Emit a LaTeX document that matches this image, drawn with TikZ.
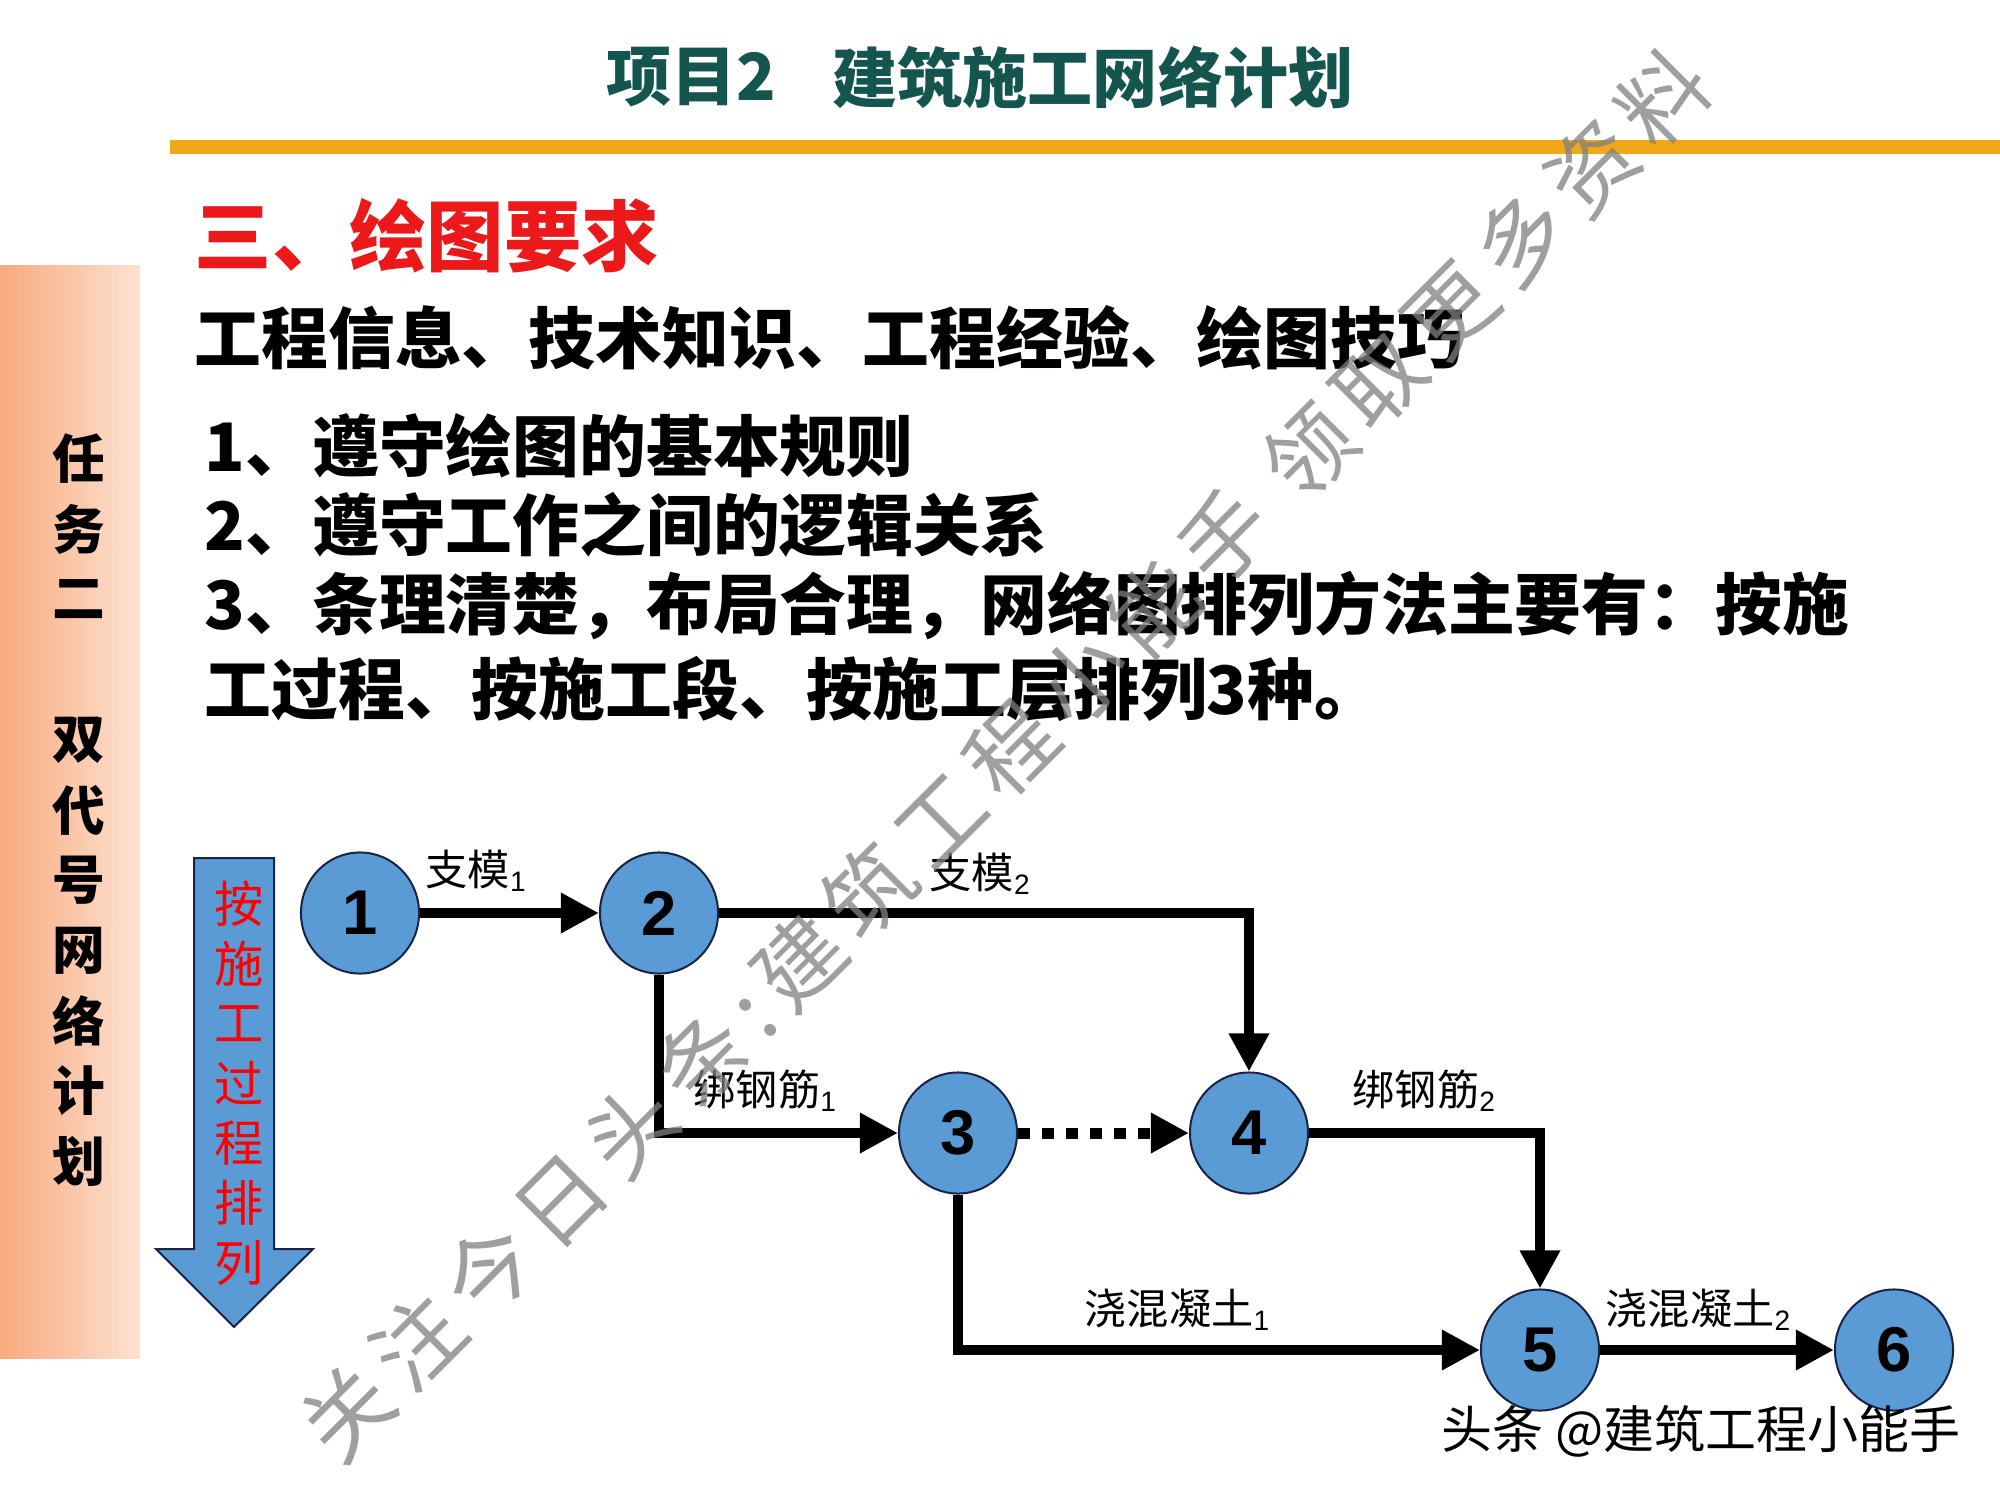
\documentclass[tikz,border=0pt]{standalone}
\usepackage{fontspec}
\setmainfont{Liberation Sans}
\newfontfamily\cjk{Noto Sans CJK SC}
\newfontfamily\cjkwm[LetterSpace=14]{Noto Sans CJK SC}
\usetikzlibrary{arrows.meta,shapes.geometric}
\definecolor{nodeblue}{RGB}{91,155,213}
\definecolor{navy}{RGB}{25,35,70}
\definecolor{titleteal}{RGB}{20,85,80}
\definecolor{barorange}{RGB}{240,168,24}
\definecolor{headred}{RGB}{235,25,25}
\definecolor{sideA}{RGB}{248,170,125}
\definecolor{sideB}{RGB}{253,226,210}
\begin{document}
\begin{tikzpicture}[x=0.01cm,y=-0.01cm,
  ev/.style={ellipse, draw=navy, line width=0.02cm, fill=nodeblue, minimum width=1.18cm, minimum height=1.21cm, inner sep=0pt, font=\fontsize{18pt}{18pt}\selectfont\bfseries},
  act/.style={line width=0.095cm, -{Triangle[length=0.38cm,width=0.38cm]}},
  lbl/.style={anchor=base west, inner sep=0pt, font=\cjk\fontsize{12pt}{12pt}\selectfont},
  body/.style={anchor=west, inner sep=0pt, font=\cjk\bfseries\fontsize{19pt}{19pt}\selectfont},
  side/.style={inner sep=0pt, font=\cjk\bfseries\fontsize{15pt}{15pt}\selectfont},
  vtext/.style={inner sep=0pt, text=red, font=\cjk\fontsize{14pt}{14pt}\selectfont}
]
\useasboundingbox[fill=white] (0,0) rectangle (2000,1500);

% header
\node[anchor=west, inner sep=0pt, text=titleteal, font=\cjk\bfseries\fontsize{18.5pt}{18.5pt}\selectfont] (t1) at (606,77) {项目2};
\node[anchor=west, inner sep=0pt, text=titleteal, font=\cjk\bfseries\fontsize{18.5pt}{18.5pt}\selectfont] (t2) at (832,77) {建筑施工网络计划};
\fill[barorange] (170,140) rectangle (2000,154);

% sidebar
\shade[left color=sideA, right color=sideB] (0,265) rectangle (140,1358);
\foreach \c/\i in {任/0,务/1,二/2,双/4,代/5,号/6,网/7,络/8,计/9,划/10}{
  \node[side] (s\i) at (79,{459+70.2*\i}) {\c};
}

% texts
\node[anchor=west, inner sep=0pt, text=headred, font=\cjk\bfseries\fontsize{22pt}{22pt}\selectfont] (h) at (194,236) {三、绘图要求};
\node[body] (b0) at (194,338) {工程信息、技术知识、工程经验、绘图技巧};
\node[body] (b1) at (204,446) {1、遵守绘图的基本规则};
\node[body] (b2) at (204,525) {2、遵守工作之间的逻辑关系};
\node[body] (b3) at (204,606) {3、条理清楚，布局合理，网络图排列方法主要有：按施};
\node[body] (b4) at (204,689) {工过程、按施工段、按施工层排列3种。};

% big arrow
\filldraw[fill=nodeblue, draw=navy, line width=0.02cm] (194,858) -- (274,858) -- (274,1249) -- (313,1249) -- (234,1327) -- (156,1249) -- (194,1249) -- cycle;
\foreach \c/\i in {按/0,施/1,工/2,过/3,程/4,排/5,列/6}{
  \node[vtext] (v\i) at (239,{904+59.8*\i}) {\c};
}

% event nodes
\node[ev] (n1) at (360,913) {1};
\node[ev] (n2) at (659,913) {2};
\node[ev] (n3) at (958,1133) {3};
\node[ev] (n4) at (1249,1133) {4};
\node[ev] (n5) at (1540,1350) {5};
\node[ev] (n6) at (1894,1350) {6};

% activities
\draw[act] (n1) -- (n2);
\draw[act] (n2) -| (n4);
\draw[act] (n2) |- (n3);
\draw[act, line width=0.11cm, dash pattern=on 0.12cm off 0.12cm] (n3) -- (n4);
\draw[act] (n4) -| (n5);
\draw[act] (n3) |- (n5);
\draw[act] (n5) -- (n6);

% labels
\node[lbl] (l1) at (425,885) {支模\textsubscript{\rmfamily 1}};
\node[lbl] (l2) at (929,888) {支模\textsubscript{\rmfamily 2}};
\node[lbl] (l3) at (693,1105) {绑钢筋\textsubscript{\rmfamily 1}};
\node[lbl] (l4) at (1352,1105) {绑钢筋\textsubscript{\rmfamily 2}};
\node[lbl] (l5) at (1084,1324) {浇混凝土\textsubscript{\rmfamily 1}};
\node[lbl] (l6) at (1605,1324) {浇混凝土\textsubscript{\rmfamily 2}};

% footer credit
\node[anchor=west, inner sep=0pt, font=\cjk\fontsize{14.5pt}{14.5pt}\selectfont] (cr) at (1441,1431) {头条 @建筑工程小能手};

% watermark
\node[rotate=45, inner sep=0pt, text=gray, opacity=0.75, font=\cjkwm\fontsize{25pt}{25pt}\selectfont] (wm) at (1005,755) {关注今日头条:建筑工程小能手 领取更多资料};
\end{tikzpicture}
\end{document}
